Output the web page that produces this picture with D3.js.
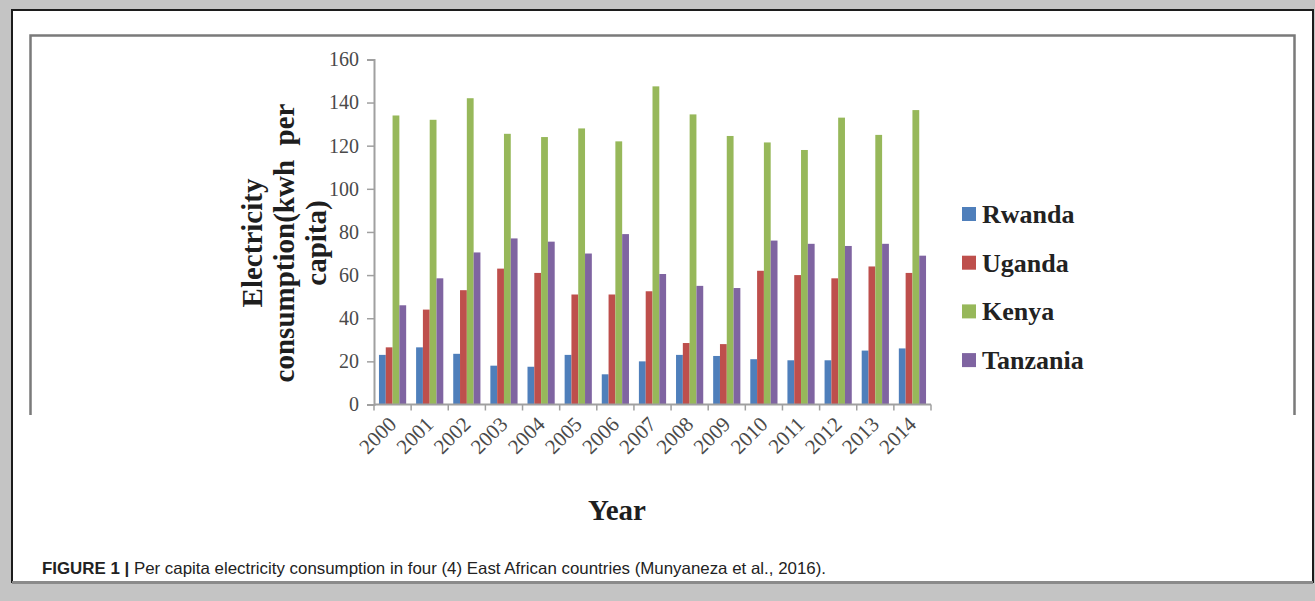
<!DOCTYPE html>
<html>
<head>
<meta charset="utf-8">
<script src="https://cdn.jsdelivr.net/npm/d3@7"></script>
<style>
  html, body { margin: 0; padding: 0; background: #c4c4c4; }
  svg { display: block; }
</style>
</head>
<body>
<script>
// Per capita electricity consumption (kWh per capita), 2000–2014
const years = ["2000","2001","2002","2003","2004","2005","2006","2007","2008","2009","2010","2011","2012","2013","2014"];
const countries = ["Rwanda", "Uganda", "Kenya", "Tanzania"];
const rwanda   = [23, 26.5, 23.5, 18, 17.5, 23, 14, 20, 23, 22.5, 21, 20.5, 20.5, 25, 26];
const uganda   = [26.5, 44, 53, 63, 61, 51, 51, 52.5, 28.5, 28, 62, 60, 58.5, 64, 61];
const kenya    = [134, 132, 142, 125.5, 124, 128, 122, 147.5, 134.5, 124.5, 121.5, 118, 133, 125, 136.5];
const tanzania = [46, 58.5, 70.5, 77, 75.5, 70, 79, 60.5, 55, 54, 76, 74.5, 73.5, 74.5, 69];
const yTicks   = [0, 20, 40, 60, 80, 100, 120, 140, 160];
const colors   = ["#4f7fbb", "#be4f4c", "#97b85a", "#7f64a1"];
const seriesValues = [rwanda, uganda, kenya, tanzania];

const W = 1315, H = 601;
const svg = d3.select("body").append("svg").attr("width", W).attr("height", H);

// outer white page panel
svg.append("rect").attr("x", 12).attr("y", 10).attr("width", 1301).attr("height", 572)
  .attr("fill", "#ffffff").attr("stroke", "#1c1c1c").attr("stroke-width", 2);
svg.append("line").attr("x1", 12).attr("x2", 1313).attr("y1", 582.5).attr("y2", 582.5)
  .attr("stroke", "#8a8a8a").attr("stroke-width", 3);

// chart border
svg.append("path").attr("d", "M30.5,415 V35.5 H1294.5 V415")
  .attr("fill", "none").attr("stroke", "#7a7a7a").attr("stroke-width", 2.5);

const x0 = 374, x1 = 931, y0 = 404.5, y1 = 59.4;
const x = d3.scaleBand().domain(years).range([x0, x1]).padding(0);
const xs = d3.scaleBand().domain(countries).range([0, x.bandwidth()]).paddingInner(0).paddingOuter(0.73);
const y = d3.scaleLinear().domain([0, 160]).range([y0, y1]);

// bars
const rows = [];
countries.forEach((c, i) => years.forEach((yr, j) => rows.push({ c, i, yr, v: seriesValues[i][j] })));
svg.append("g").selectAll("rect").data(rows).join("rect")
  .attr("x", d => x(d.yr) + xs(d.c))
  .attr("y", d => y(d.v))
  .attr("width", xs.bandwidth())
  .attr("height", d => y(0) - y(d.v))
  .attr("fill", d => colors[d.i]);

// y axis
const yAxis = svg.append("g").attr("transform", `translate(${x0},0)`)
  .call(d3.axisLeft(y).tickValues(yTicks).tickSize(7).tickPadding(8));
yAxis.select(".domain").attr("stroke", "#a0a0a0").attr("stroke-width", 2);
yAxis.selectAll(".tick line").attr("stroke", "#a0a0a0").attr("stroke-width", 1.5);
yAxis.selectAll(".tick text").attr("font-family", "'Liberation Serif', 'Times New Roman', serif")
  .attr("font-size", 20).attr("fill", "#4a4a4a");

// x axis with ticks at category boundaries
const xAxis = svg.append("g").attr("transform", `translate(0,${y0})`);
xAxis.append("line").attr("x1", x0).attr("x2", x1).attr("stroke", "#a0a0a0").attr("stroke-width", 2);
const bounds = years.map(yr => x(yr)).concat([x1]);
xAxis.selectAll("line.tk").data(bounds).join("line").attr("class", "tk")
  .attr("x1", d => d).attr("x2", d => d).attr("y1", 0).attr("y2", 6)
  .attr("stroke", "#a0a0a0").attr("stroke-width", 1.5);
xAxis.selectAll("text").data(years).join("text")
  .attr("transform", d => `translate(${x(d) + x.bandwidth() / 2 + 5},${21}) rotate(-45)`)
  .attr("text-anchor", "end")
  .attr("font-family", "'Liberation Serif', 'Times New Roman', serif")
  .attr("font-size", 21).attr("fill", "#4a4a4a")
  .text(d => d);

// y axis title
const yTitle = svg.append("text")
  .attr("transform", "translate(285,243) rotate(-90)")
  .attr("text-anchor", "middle")
  .attr("font-family", "'Liberation Serif', 'Times New Roman', serif")
  .attr("font-weight", "bold").attr("font-size", 29).attr("fill", "#1e1e1e");
["Electricity", "consumption(kwh  per", "capita)"].forEach((t, i) => {
  yTitle.append("tspan").attr("x", 0).attr("y", -23 + i * 32).attr("xml:space", "preserve").text(t);
});

// x axis title
svg.append("text").attr("x", 617).attr("y", 520).attr("text-anchor", "middle")
  .attr("font-family", "'Liberation Serif', 'Times New Roman', serif")
  .attr("font-weight", "bold").attr("font-size", 29).attr("fill", "#1e1e1e")
  .text("Year");

// legend
const legend = svg.append("g").attr("transform", "translate(962,214)");
const li = legend.selectAll("g").data(countries).join("g")
  .attr("transform", (d, i) => `translate(0,${i * 48.7})`);
li.append("rect").attr("x", 0).attr("y", -7).attr("width", 14).attr("height", 14)
  .attr("fill", (d, i) => colors[i]);
li.append("text").attr("x", 20).attr("y", 9)
  .attr("font-family", "'Liberation Serif', 'Times New Roman', serif")
  .attr("font-weight", "bold").attr("font-size", 26).attr("fill", "#222")
  .text(d => d);

// caption
const cap = svg.append("text").attr("x", 42).attr("y", 574)
  .attr("font-family", "'Liberation Sans', Arial, sans-serif")
  .attr("font-size", 16.5).attr("fill", "#222")
  .attr("textLength", 784).attr("lengthAdjust", "spacingAndGlyphs");
cap.append("tspan").attr("font-weight", "bold").text("FIGURE 1 | ");
cap.append("tspan").text("Per capita electricity consumption in four (4) East African countries (Munyaneza et al., 2016).");
</script>
</body>
</html>
